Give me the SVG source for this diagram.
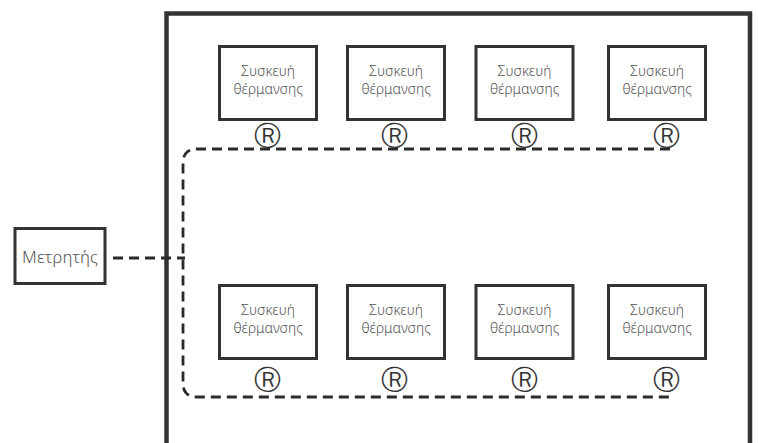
<svg xmlns="http://www.w3.org/2000/svg" width="758" height="443" viewBox="0 0 758 443">
<style>
.box{fill:#fff;stroke:#333;stroke-width:3}
.lbl{font-family:"Noto Sans","DejaVu Sans",sans-serif;font-size:14px;fill:#555;text-anchor:middle;font-weight:300}
.r{font-family:"DejaVu Sans",sans-serif;font-size:27px;fill:#333;text-anchor:middle;font-weight:200}
.dash{fill:none;stroke:#2a2a2a;stroke-width:2.8;stroke-dasharray:10 6}
</style>
<rect width="758" height="443" fill="#fff"/>
<g id="frame"><path d="M166.5 443 V13.5 H750 V443" fill="none" stroke="#333" stroke-width="4.5"/></g>
<g id="connectors">
<path class="dash" d="M670 149 H197 Q183 149 183 163 V383 Q183 397 197 397 H670"/>
<path class="dash" d="M113 258 H185"/>
</g>
<g id="meter"><rect class="box" x="15" y="228.5" width="90" height="55"/><text class="lbl" x="60" y="263" style="font-size:17px">Μετρητής</text></g>
<g id="h1"><rect class="box" x="219.5" y="46.5" width="97" height="73"/><text class="lbl" x="268" y="76">Συσκευή</text><text class="lbl" x="268" y="94">θέρμανσης</text><text class="r" x="267" y="145">Ⓡ</text></g>
<g id="h2"><rect class="box" x="347.5" y="46.5" width="97" height="73"/><text class="lbl" x="396" y="76">Συσκευή</text><text class="lbl" x="396" y="94">θέρμανσης</text><text class="r" x="394" y="145">Ⓡ</text></g>
<g id="h3"><rect class="box" x="476" y="46.5" width="97" height="73"/><text class="lbl" x="524.5" y="76">Συσκευή</text><text class="lbl" x="524.5" y="94">θέρμανσης</text><text class="r" x="524" y="145">Ⓡ</text></g>
<g id="h4"><rect class="box" x="608.5" y="46.5" width="97" height="73"/><text class="lbl" x="657" y="76">Συσκευή</text><text class="lbl" x="657" y="94">θέρμανσης</text><text class="r" x="666" y="145">Ⓡ</text></g>
<g id="h5"><rect class="box" x="219.5" y="285.5" width="97" height="73"/><text class="lbl" x="268" y="315">Συσκευή</text><text class="lbl" x="268" y="333">θέρμανσης</text><text class="r" x="267" y="389">Ⓡ</text></g>
<g id="h6"><rect class="box" x="347.5" y="285.5" width="97" height="73"/><text class="lbl" x="396" y="315">Συσκευή</text><text class="lbl" x="396" y="333">θέρμανσης</text><text class="r" x="394" y="389">Ⓡ</text></g>
<g id="h7"><rect class="box" x="476" y="285.5" width="97" height="73"/><text class="lbl" x="524.5" y="315">Συσκευή</text><text class="lbl" x="524.5" y="333">θέρμανσης</text><text class="r" x="524" y="389">Ⓡ</text></g>
<g id="h8"><rect class="box" x="608.5" y="285.5" width="97" height="73"/><text class="lbl" x="657" y="315">Συσκευή</text><text class="lbl" x="657" y="333">θέρμανσης</text><text class="r" x="666" y="389">Ⓡ</text></g>
</svg>
